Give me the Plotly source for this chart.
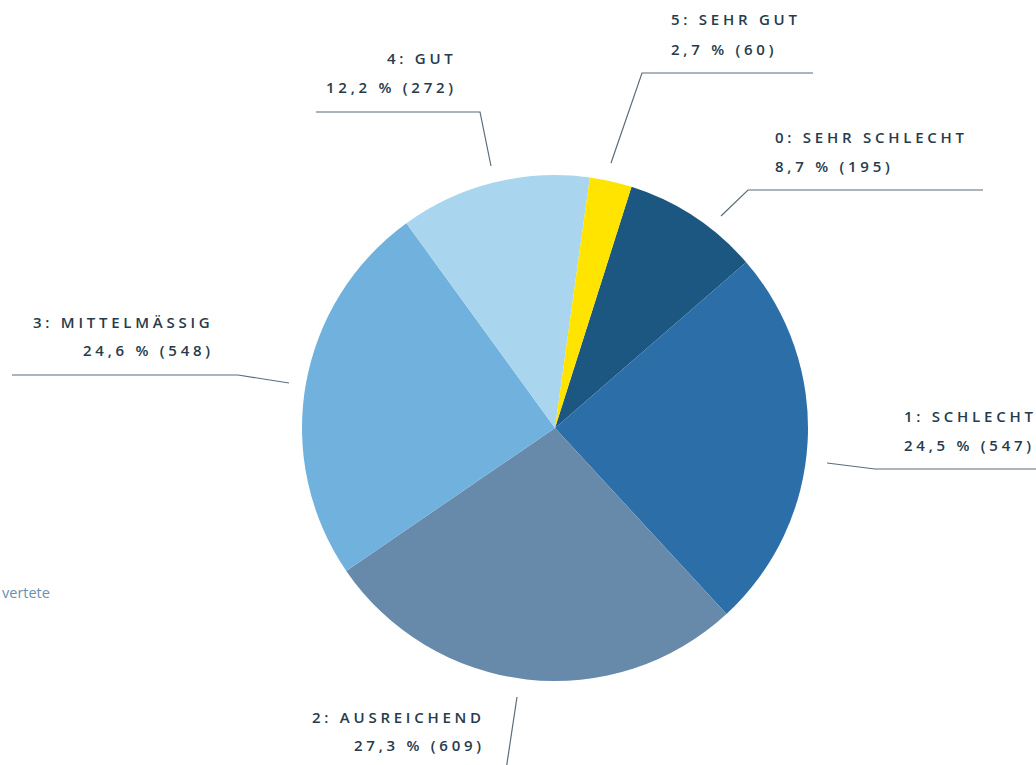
import plotly.graph_objects as go

# Ratings (0 = sehr schlecht ... 5 = sehr gut) and response counts
categories = ["0: SEHR SCHLECHT", "1: SCHLECHT", "2: AUSREICHEND",
              "3: MITTELMÄSSIG", "4: GUT", "5: SEHR GUT"]
counts = [195, 547, 609, 548, 272, 60]
slice_colors = ["#1b5781", "#2b6ea8", "#678aab", "#70b1dd", "#a9d6ee", "#ffe400"]
footnote = "vertete"

W, H = 1036, 765
CX, CY, R = 555, 428, 253

total = sum(counts)
pct_labels = [f"{c / total * 100:.1f}".replace(".", ",") + f" % ({c})" for c in counts]


def px(x):
    return x / W


def py(y):
    return 1 - y / H


def spaced(s, gap="\u2005"):
    return gap.join(list(s))


fig = go.Figure(go.Pie(
    labels=categories,
    values=counts,
    sort=False,
    direction="clockwise",
    rotation=17.6,
    marker=dict(colors=slice_colors, line=dict(width=0)),
    textinfo="none",
    hoverinfo="label+percent+value",
    domain=dict(x=[px(CX - R), px(CX + R)], y=[py(CY + R), py(CY - R)]),
    showlegend=False,
))

# label placement: (anchor x, title y, value y, xanchor) and leader polyline points
label_layout = [
    (773, 137, 166, "left", [(721, 216), (748, 190), (983, 190)]),
    (902, 416, 445, "left", [(827, 463), (875, 469), (1040, 469)]),
    (483, 717, 745, "right", [(517, 697), (506, 770)]),
    (212, 322, 350, "right", [(289, 383), (238, 375), (12, 375)]),
    (455, 58, 87, "right", [(491, 166), (480, 112), (316, 112)]),
    (669, 19, 49, "left", [(611, 163), (642, 73), (813, 73)]),
]

label_font = dict(family="Open Sans", size=15, color="#263b4b", weight=600)
line_color = "#5b6d7a"

annotations = []
shapes = []
for cat, pct, (ax, ty, vy, anchor, pts) in zip(categories, pct_labels, label_layout):
    for txt, yy in ((cat, ty), (pct, vy)):
        annotations.append(dict(
            x=px(ax), y=py(yy), xref="paper", yref="paper",
            text=spaced(txt), showarrow=False,
            xanchor=anchor, yanchor="middle",
            font=label_font,
        ))
    path = "M " + " L ".join(f"{px(x)},{py(y)}" for x, y in pts)
    shapes.append(dict(type="path", path=path, xref="paper", yref="paper",
                       line=dict(color=line_color, width=1.2)))

annotations.append(dict(
    x=px(0), y=py(592), xref="paper", yref="paper",
    text=footnote, showarrow=False, xanchor="left", yanchor="middle",
    font=dict(family="Open Sans", size=14.5, color="#6b8fb3"),
))

fig.update_layout(
    width=W, height=H,
    margin=dict(l=0, r=0, t=0, b=0),
    paper_bgcolor="white",
    plot_bgcolor="white",
    annotations=annotations,
    shapes=shapes,
)

fig.write_html("out.html")
